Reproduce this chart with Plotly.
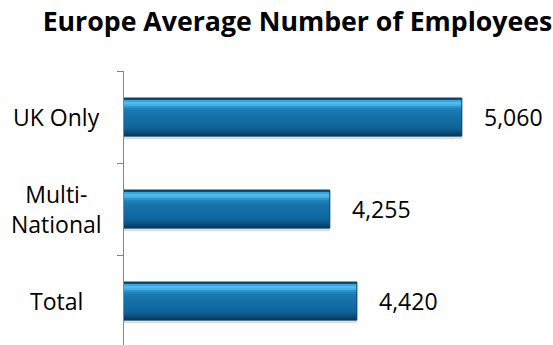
import plotly.graph_objects as go

# Chart data
categories = ["UK Only", "Multi-National", "Total"]
employees = [5060, 4255, 4420]
category_labels = ["UK Only", "Multi-<br>National", "Total"]
title_text = "Europe Average Number of Employees"

# Value-axis settings
axis_min, axis_max = 3000, 5500

FONT = "Open Sans"
BAR_W = 0.413  # bar thickness as fraction of a category slot

# Vertical colour profile of the bevelled bar, top to bottom
profile = [
    "#0d4f78", "#3aa7dc", "#4fbcec", "#44b1e4", "#2c93cb",
    "#1f82bd", "#1a79b3", "#1774ad", "#1571aa", "#1470a8",
    "#136ea6", "#126ca3", "#116aa0", "#10679d", "#0f6499",
    "#0d5f92", "#0b5687", "#094a76", "#083d61",
]

fig = go.Figure()

# soft drop shadow under each bar
fig.add_trace(go.Bar(
    y=categories, x=employees, orientation="h",
    width=BAR_W, offset=-BAR_W / 2 + 0.035,
    marker=dict(color="rgba(0,0,0,0.13)", line=dict(width=0)),
    hoverinfo="skip", showlegend=False,
))

# gradient body built from thin horizontal strips
n = len(profile)
strip = BAR_W / n
for i, col in enumerate(profile):
    fig.add_trace(go.Bar(
        y=categories, x=employees, orientation="h",
        width=strip * 1.08, offset=-BAR_W / 2 + i * strip,
        marker=dict(color=col, line=dict(width=0)),
        hoverinfo="skip", showlegend=False,
    ))

# dark outline
fig.add_trace(go.Bar(
    y=categories, x=employees, orientation="h",
    width=BAR_W, offset=-BAR_W / 2,
    marker=dict(color="rgba(0,0,0,0)", line=dict(width=1, color="#0b3f60")),
    hoverinfo="skip", showlegend=False,
))

fig.update_layout(barmode="overlay")

PLOT_L, PLOT_R = 124, 553 - 19
LABEL_CX = 56  # centre of the category label column, px

annotations = []
# value labels to the right of the bars
for cat, val in zip(categories, employees):
    annotations.append(dict(
        x=val, y=cat, xref="x", yref="y", text=f"{val:,}",
        showarrow=False, xanchor="left", yanchor="middle", xshift=20,
        font=dict(family=FONT, size=23, color="#000000"),
    ))
# category labels, centred in the column left of the axis
for cat, lab in zip(categories, category_labels):
    annotations.append(dict(
        x=(LABEL_CX - PLOT_L) / (PLOT_R - PLOT_L), y=cat,
        xref="paper", yref="y", text=lab, align="center",
        showarrow=False, xanchor="center", yanchor="middle",
        font=dict(family=FONT, size=23, color="#000000"),
    ))

fig.update_layout(
    width=553, height=345,
    margin=dict(l=PLOT_L, r=553 - PLOT_R, t=71, b=0),
    paper_bgcolor="white", plot_bgcolor="white",
    font=dict(family=FONT, color="#000000"),
    title=dict(
        text=title_text, xref="container", yref="container",
        x=297.5 / 553, xanchor="center", y=1 - 22 / 345, yanchor="middle",
        font=dict(family=FONT, size=26.7, weight="bold", color="#000000"),
    ),
    xaxis=dict(
        range=[axis_min, axis_max], visible=False, fixedrange=True,
    ),
    yaxis=dict(
        type="category", categoryorder="array", categoryarray=categories,
        range=[-0.5 + 274 / 92, -0.5],
        showline=True, linecolor="#868686", linewidth=1,
        ticks="outside", tickson="boundaries", ticklen=6, tickcolor="#868686",
        showticklabels=False, showgrid=False, zeroline=False,
    ),
    annotations=annotations,
    showlegend=False,
)

fig.write_html("out.html")
